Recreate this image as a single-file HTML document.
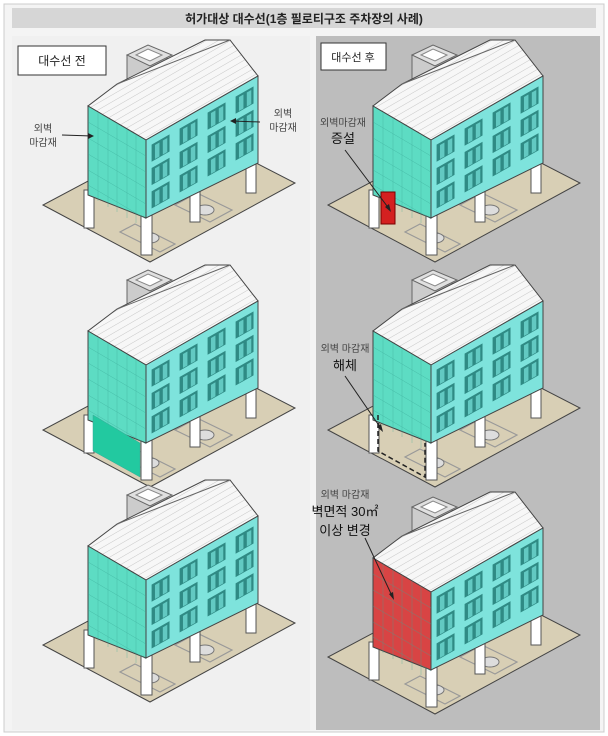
<!DOCTYPE html>
<html><head><meta charset="utf-8"><style>
body{margin:0;background:#fff;}
svg{display:block;font-family:"Liberation Sans","Noto Sans CJK KR",sans-serif;}
</style></head><body>
<svg width="608" height="736" viewBox="0 0 608 736" xmlns="http://www.w3.org/2000/svg">
<defs>
<pattern id="roofp" width="6" height="6" patternUnits="userSpaceOnUse" patternTransform="rotate(60)">
<rect width="6" height="6" fill="#f7f7f7"/><line x1="0" y1="0" x2="0" y2="6" stroke="#bbb" stroke-width="0.8"/>
</pattern>
<g id="base">
<polygon points="43,205 150,262 295,183 188,128" fill="#d8cfb5" stroke="#444" stroke-width="1"/>
<polygon points="120,232 160,252 175,244 135,224" fill="none" stroke="#999" stroke-width="1.2"/>
<polygon points="175,205 210,222 232,210 197,193" fill="none" stroke="#999" stroke-width="1.2"/>
<ellipse cx="150" cy="238" rx="9" ry="5" fill="#ddd" stroke="#777"/>
<ellipse cx="205" cy="210" rx="9" ry="5" fill="#ddd" stroke="#777"/>
<rect x="127" y="55" width="40" height="35" fill="#ccc" stroke="#666"/>
<polygon points="127,55 148,45 172,55 150,66" fill="#e0e0e0" stroke="#666"/>
<polygon points="136,55 148,49 162,55 150,61" fill="#fff" stroke="#888"/>
<rect x="84" y="190" width="10" height="38" fill="#fff" stroke="#555"/>
<rect x="190" y="180" width="10" height="42" fill="#fff" stroke="#555"/>
<rect x="246" y="155" width="10" height="38" fill="#fff" stroke="#555"/>
<rect x="141" y="210" width="11" height="45" fill="#fff" stroke="#555"/>
<polygon points="88,106 146,140 258,76 230,40 205,40 117,84" fill="url(#roofp)" stroke="#444"/>
<line x1="117" y1="84" x2="230" y2="40" stroke="#666"/>
<polygon points="146,140 258,76 258,163 146,218" fill="#7ee3dc" stroke="#444"/>
<g transform="matrix(1.12,-0.64,0,0.78,146,140)">
<g fill="#2f8a84" stroke="none">
<rect x="5" y="10" width="16" height="22"/><rect x="30" y="10" width="16" height="22"/><rect x="55" y="10" width="16" height="22"/><rect x="80" y="10" width="16" height="22"/>
<rect x="5" y="40" width="16" height="22"/><rect x="30" y="40" width="16" height="22"/><rect x="55" y="40" width="16" height="22"/><rect x="80" y="40" width="16" height="22"/>
<rect x="5" y="70" width="16" height="22"/><rect x="30" y="70" width="16" height="22"/><rect x="55" y="70" width="16" height="22"/><rect x="80" y="70" width="16" height="22"/>
</g>
<g fill="#62c9c2">
<rect x="8" y="13" width="4" height="18"/><rect x="15" y="13" width="4" height="18"/><rect x="33" y="13" width="4" height="18"/><rect x="40" y="13" width="4" height="18"/><rect x="58" y="13" width="4" height="18"/><rect x="65" y="13" width="4" height="18"/><rect x="83" y="13" width="4" height="18"/><rect x="90" y="13" width="4" height="18"/>
<rect x="8" y="43" width="4" height="18"/><rect x="15" y="43" width="4" height="18"/><rect x="33" y="43" width="4" height="18"/><rect x="40" y="43" width="4" height="18"/><rect x="58" y="43" width="4" height="18"/><rect x="65" y="43" width="4" height="18"/><rect x="83" y="43" width="4" height="18"/><rect x="90" y="43" width="4" height="18"/>
<rect x="8" y="73" width="4" height="18"/><rect x="15" y="73" width="4" height="18"/><rect x="33" y="73" width="4" height="18"/><rect x="40" y="73" width="4" height="18"/><rect x="58" y="73" width="4" height="18"/><rect x="65" y="73" width="4" height="18"/><rect x="83" y="73" width="4" height="18"/><rect x="90" y="73" width="4" height="18"/>
</g>
</g>
</g>
<g id="grid" stroke="#3aa896" stroke-width="0.5" opacity="0.6">
<line x1="98" y1="112" x2="98" y2="201"/><line x1="108" y1="118" x2="108" y2="207"/><line x1="117" y1="123" x2="117" y2="212"/><line x1="127" y1="129" x2="127" y2="218"/><line x1="136" y1="134" x2="136" y2="223"/>
<line x1="88" y1="122" x2="146" y2="156"/><line x1="88" y1="138" x2="146" y2="172"/><line x1="88" y1="154" x2="146" y2="188"/><line x1="88" y1="170" x2="146" y2="204"/><line x1="88" y1="185" x2="146" y2="219"/>
</g>
<g id="front"><polygon points="88,106 146,140 146,218 88,195" fill="#5ddcc3" stroke="#444"/><use href="#grid"/></g>
</defs>

<rect x="0" y="0" width="608" height="736" fill="#fff"/>
<rect x="4" y="4" width="600" height="728" fill="#f4f4f4" stroke="#ccc"/>
<rect x="12" y="8" width="584" height="20" fill="#d6d6d6"/>
<text x="304" y="23" font-size="12" font-weight="bold" text-anchor="middle" fill="#222">허가대상 대수선(1층 필로티구조 주차장의 사례)</text>
<rect x="12" y="36" width="298" height="694" fill="#f0f0f0"/>
<rect x="316" y="36" width="284" height="694" fill="#bdbdbd"/>

<!-- Left column -->
<use href="#base"/><use href="#front"/>
<g transform="translate(0,225)">
<use href="#base"/><use href="#front"/>
<polygon points="93,190 140,218 140,252 93,226" fill="#22c9a0" stroke="#3aa896" stroke-width="0.5"/>
</g>
<g transform="translate(0,440)"><use href="#base"/><use href="#front"/></g>

<!-- Right column -->
<g transform="translate(285,0)"><use href="#base"/><use href="#front"/>
<rect x="96" y="192" width="14" height="32" fill="#d42020" stroke="#700"/></g>
<g transform="translate(285,225)"><use href="#base"/><use href="#front"/>
<polyline points="93,190 93,226 140,252 140,218" fill="none" stroke="#222" stroke-width="1.5" stroke-dasharray="5,3"/></g>
<g transform="translate(285,452)"><use href="#base"/>
<polygon points="88,106 146,140 146,218 88,195" fill="#d84444" stroke="#444"/><use href="#grid"/></g>

<!-- labels -->
<rect x="18" y="46" width="88" height="29" fill="#fff" stroke="#333"/>
<text x="62" y="65" font-size="12" text-anchor="middle" fill="#222">대수선 전</text>
<rect x="321" y="43" width="65" height="27" fill="#fff" stroke="#333"/>
<text x="353" y="61" font-size="11" text-anchor="middle" fill="#222">대수선 후</text>
<g font-size="10" fill="#444" text-anchor="middle">
<text x="43" y="132">외벽</text><text x="43" y="146">마감재</text>
<text x="283" y="117">외벽</text><text x="283" y="131">마감재</text>
<text x="343" y="126">외벽마감재</text>
<text x="345" y="352">외벽 마감재</text>
<text x="345" y="498">외벽 마감재</text>
</g>
<g font-size="13" fill="#111" text-anchor="middle">
<text x="343" y="143">증설</text>
<text x="345" y="370">해체</text>
<text x="345" y="516">벽면적 30㎡</text>
<text x="345" y="535">이상 변경</text>
</g>
<g stroke="#222" stroke-width="1">
<line x1="62" y1="135" x2="92" y2="136"/><line x1="260" y1="122" x2="232" y2="121"/>
<line x1="345" y1="150" x2="390" y2="210"/>
<line x1="345" y1="376" x2="382" y2="430"/>
<line x1="365" y1="538" x2="393" y2="598"/>
</g>
<g fill="#222">
<polygon points="94,136 88,133 88,139"/><polygon points="230,121 236,118 236,124"/>
<polygon points="391,212 385,207 389,204"/><polygon points="383,432 377,427 381,424"/><polygon points="394,600 389,594 393,592"/>
</g>
</svg>
</body></html>
